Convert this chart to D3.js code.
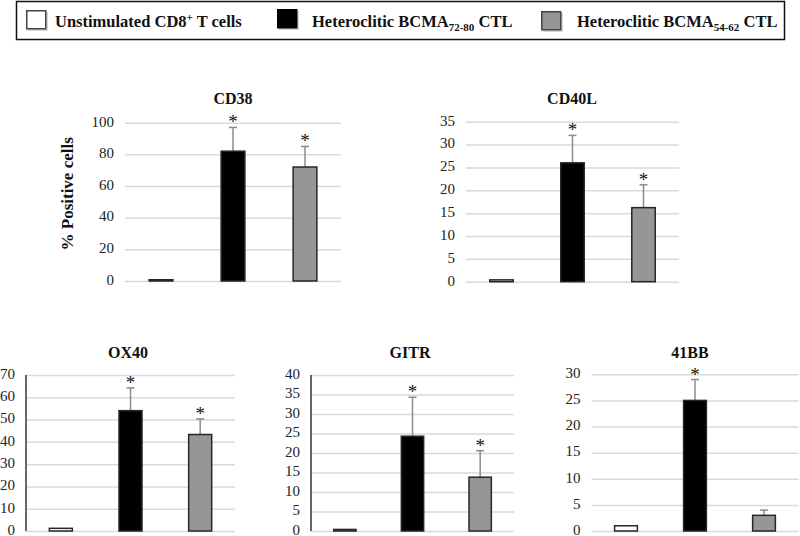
<!DOCTYPE html>
<html>
<head>
<meta charset="utf-8">
<script src="https://cdn.jsdelivr.net/npm/d3@7"></script>
<style>
  html, body { margin: 0; padding: 0; background: #fff; }
  svg { display: block; }
  svg text { font-family: "Liberation Serif", "Times New Roman", serif !important; }
</style>
</head>
<body>
<svg id="chart" width="800" height="536"></svg>
<script>
// ---------- DATA ----------
const markers = ["CD38", "CD40L", "OX40", "GITR", "41BB"];
const seriesKeys = ["unstim", "bcma7280", "bcma5462"];
const unstimValues   = [0.8, 0.4, 1.2, 0.4, 1.0];
const bcma7280Values = [82, 26, 54, 24.3, 25];
const bcma5462Values = [72, 16.2, 43.3, 13.8, 3];
const unstimErrors   = [0, 0, 0, 0, 0];
const bcma7280Errors = [15, 6, 10.2, 10, 4];
const bcma5462Errors = [13, 5, 7, 6.8, 1];
const bcma7280Signif = [true, true, true, true, true];
const bcma5462Signif = [true, true, true, true, false];
const yMaxValues  = [100, 35, 70, 40, 30];
const yTickSteps  = [20, 5, 10, 5, 5];

// ---------- LAYOUT (positions only) ----------
const layout = [
  { x0: 125,   x1: 341,   yZero: 281,   yTop: 122.7, titleX: 233, titleY: 104, axisLine: false, yLabel: true },
  { x0: 466,   x1: 679,   yZero: 281.7, yTop: 121.7, titleX: 572, titleY: 104, axisLine: false, yLabel: false },
  { x0: 26,    x1: 235,   yZero: 531,   yTop: 375,   titleX: 128, titleY: 358, axisLine: true,  yLabel: false },
  { x0: 311,   x1: 514,   yZero: 531,   yTop: 375,   titleX: 410, titleY: 358, axisLine: true,  yLabel: false },
  { x0: 591.5, x1: 798.5, yZero: 531,   yTop: 374.3, titleX: 690, titleY: 358, axisLine: false, yLabel: false }
];

const fills = { unstim: "#ffffff", bcma7280: "#000000", bcma5462: "#969696" };
const serif = "'Liberation Serif', 'Times New Roman', serif";

const svg = d3.select("#chart");

// ---------- LEGEND ----------
const lg = svg.append("g");
lg.append("rect").attr("x", 16.5).attr("y", 1.5).attr("width", 768).attr("height", 38)
  .attr("fill", "#fff").attr("stroke", "#111").attr("stroke-width", 1.5);

const legendItems = [
  { key: "unstim",  sx: 26,  sy: 10, tx: 55,
    parts: [["Unstimulated CD8", 0, 16.5], ["+", -6, 11], [" T cells", 6, 16.5]] },
  { key: "bcma7280", sx: 277, sy: 9,  tx: 312,
    parts: [["Heteroclitic BCMA", 0, 16.5], ["72-80", 4, 11], [" CTL", -4, 16.5]] },
  { key: "bcma5462", sx: 541, sy: 11, tx: 577,
    parts: [["Heteroclitic BCMA", 0, 16.5], ["54-62", 4, 11], [" CTL", -4, 16.5]] }
];
legendItems.forEach(it => {
  lg.append("rect").attr("x", it.sx + 2).attr("y", it.sy + 2).attr("width", 20).attr("height", 19)
    .attr("fill", "#bbb").attr("opacity", 0.6);
  lg.append("rect").attr("x", it.sx + 0.75).attr("y", it.sy + 0.75).attr("width", 19).attr("height", 18)
    .attr("fill", fills[it.key]).attr("stroke", it.key === "bcma7280" ? "#000" : "#444").attr("stroke-width", 1.5);
  const t = lg.append("text").attr("x", it.tx).attr("y", 26.5)
    .attr("font-weight", "bold").attr("fill", "#111").style("font-family", serif);
  it.parts.forEach(([s, dy, fs]) => {
    t.append("tspan").attr("dy", dy).attr("font-size", fs).text(s);
  });
});

// ---------- PANELS ----------
markers.forEach((m, i) => {
  const L = layout[i];
  const g = svg.append("g");
  const y = d3.scaleLinear().domain([0, yMaxValues[i]]).range([L.yZero, L.yTop]);
  const x = d3.scaleBand().domain(seriesKeys).range([L.x0, L.x1]).paddingInner(0.67).paddingOuter(0.335);
  const ticks = d3.range(0, yMaxValues[i] + 1e-9, yTickSteps[i]);

  // gridlines
  g.append("g").attr("transform", `translate(${L.x0},0)`)
    .call(d3.axisLeft(y).tickValues(ticks).tickSize(-(L.x1 - L.x0)).tickFormat(""))
    .call(a => a.select(".domain").remove())
    .call(a => a.selectAll("line").attr("stroke", "#d9d9d9").attr("stroke-width", 1.5));

  // tick labels
  g.append("g").attr("transform", `translate(${L.x0},0)`)
    .attr("font-family", serif)
    .call(d3.axisLeft(y).tickValues(ticks).tickSize(0).tickPadding(11))
    .attr("font-family", serif)
    .call(a => a.select(".domain").remove())
    .call(a => a.selectAll("text").attr("font-size", 15).attr("fill", "#222").attr("dy", "0.22em")
      .style("font-family", serif));

  if (L.axisLine) {
    g.append("line").attr("x1", L.x0).attr("x2", L.x0).attr("y1", y(yMaxValues[i])).attr("y2", y(0))
      .attr("stroke", "#666").attr("stroke-width", 2);
  }

  const rows = [
    { key: "unstim",   v: unstimValues[i],   e: unstimErrors[i],   s: false },
    { key: "bcma7280", v: bcma7280Values[i], e: bcma7280Errors[i], s: bcma7280Signif[i] },
    { key: "bcma5462", v: bcma5462Values[i], e: bcma5462Errors[i], s: bcma5462Signif[i] }
  ];

  // error bars
  rows.filter(r => r.e > 0).forEach(r => {
    const cx = x(r.key) + x.bandwidth() / 2;
    g.append("line").attr("x1", cx).attr("x2", cx).attr("y1", y(r.v)).attr("y2", y(r.v + r.e))
      .attr("stroke", "#8c8c8c").attr("stroke-width", 1.5);
    g.append("line").attr("x1", cx - 4).attr("x2", cx + 4).attr("y1", y(r.v + r.e)).attr("y2", y(r.v + r.e))
      .attr("stroke", "#8c8c8c").attr("stroke-width", 1.5);
  });

  // bars
  g.selectAll("rect.bar").data(rows).join("rect").attr("class", "bar")
    .attr("x", d => x(d.key)).attr("width", x.bandwidth())
    .attr("y", d => y(d.v)).attr("height", d => y(0) - y(d.v))
    .attr("fill", d => fills[d.key]).attr("stroke", "#262626").attr("stroke-width", 1.5);

  // significance asterisks
  rows.filter(r => r.s).forEach(r => {
    const cx = x(r.key) + x.bandwidth() / 2;
    g.append("text").attr("x", cx).attr("y", y(r.v + r.e) + 1).attr("text-anchor", "middle")
      .attr("font-size", 19).attr("fill", "#111").style("font-family", serif).text("*");
  });

  // title
  g.append("text").attr("x", L.titleX).attr("y", L.titleY).attr("text-anchor", "middle")
    .attr("font-size", 16).attr("font-weight", "bold").attr("fill", "#111").style("font-family", serif).text(m);

  if (L.yLabel) {
    g.append("text").attr("transform", `translate(73,${(L.yZero + L.yTop) / 2 - 8}) rotate(-90)`)
      .attr("text-anchor", "middle").attr("font-size", 17).attr("font-weight", "bold").attr("fill", "#111")
      .style("font-family", serif).text("% Positive cells");
  }
});
</script>
</body>
</html>
